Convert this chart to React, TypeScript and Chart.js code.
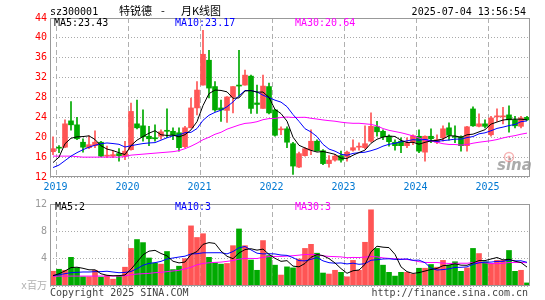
import React, { useEffect, useRef } from 'react';
import { Chart, registerables } from 'chart.js';
Chart.register(...registerables);

const months: string[] = [
  '2018-12',
  '2019-01','2019-02','2019-03','2019-04','2019-05','2019-06','2019-07','2019-08','2019-09','2019-10','2019-11','2019-12',
  '2020-01','2020-02','2020-03','2020-04','2020-05','2020-06','2020-07','2020-08','2020-09','2020-10','2020-11','2020-12',
  '2021-01','2021-02','2021-03','2021-04','2021-05','2021-06','2021-07','2021-08','2021-09','2021-10','2021-11','2021-12',
  '2022-01','2022-02','2022-03','2022-04','2022-05','2022-06','2022-07','2022-08','2022-09','2022-10','2022-11','2022-12',
  '2023-01','2023-02','2023-03','2023-04','2023-05','2023-06','2023-07','2023-08','2023-09','2023-10','2023-11','2023-12',
  '2024-01','2024-02','2024-03','2024-04','2024-05','2024-06','2024-07','2024-08','2024-09','2024-10','2024-11','2024-12',
  '2025-01','2025-02','2025-03','2025-04','2025-05','2025-06','2025-07',
];

const openP: number[] = [
  17.1,
  17.9, 18.0, 23.3, 22.5, 19.0, 17.9, 18.3, 19.0, 16.2, 16.2, 16.7, 16.2,
  17.5, 22.7, 22.3, 20.2, 19.9, 20.2, 21.3, 21.2, 20.9, 18.1, 21.9, 25.9,
  30.5, 35.5, 30.2, 25.9, 25.4, 28.1, 30.4, 30.5, 32.3, 26.9, 25.8, 30.2,
  25.5, 21.5, 21.7, 18.7, 14.0, 16.3, 17.4, 19.2, 17.3, 14.7, 15.4, 16.3,
  16.1, 17.4, 18.0, 17.9, 19.2, 22.1, 21.2, 20.2, 19.0, 19.2, 18.3, 19.0,
  20.2, 17.0, 20.2, 19.0, 19.9, 21.9, 20.1, 20.1, 18.3, 25.7, 22.2, 22.7,
  20.5, 24.1, 24.1, 24.5, 23.5, 22.2, 24.0,
];
const highP: number[] = [
  20.1,
  18.3, 23.5, 27.2, 24.0, 19.7, 20.3, 21.3, 19.2, 18.2, 17.2, 17.7, 19.2,
  26.9, 27.5, 25.5, 22.2, 22.5, 21.5, 25.7, 21.9, 21.9, 22.2, 27.9, 31.2,
  41.5, 37.5, 31.2, 27.5, 28.2, 30.2, 37.5, 33.5, 32.5, 30.5, 32.5, 30.9,
  25.6, 22.1, 22.1, 19.0, 17.0, 17.9, 21.5, 19.5, 17.5, 16.3, 16.5, 17.2,
  17.2, 19.5, 18.9, 22.3, 24.9, 23.2, 21.5, 20.5, 19.5, 19.9, 19.9, 20.5,
  21.5, 20.3, 21.7, 20.5, 22.3, 22.9, 22.3, 20.3, 22.2, 26.1, 24.7, 23.5,
  24.2, 25.7, 26.0, 26.3, 24.2, 24.2, 24.2,
];
const lowP: number[] = [
  16.5,
  16.9, 17.9, 21.4, 19.5, 17.0, 17.7, 17.9, 16.1, 15.9, 15.9, 15.2, 15.5,
  17.4, 21.7, 19.2, 18.3, 19.2, 19.6, 19.9, 19.5, 17.2, 17.9, 21.9, 24.5,
  30.5, 27.9, 25.2, 23.2, 23.0, 24.9, 28.2, 30.5, 24.8, 24.8, 25.8, 24.7,
  20.2, 20.5, 17.9, 12.5, 13.9, 16.2, 16.5, 17.2, 14.5, 14.0, 15.2, 15.0,
  15.2, 17.2, 17.4, 17.7, 19.0, 20.2, 19.5, 18.2, 17.4, 16.9, 17.9, 18.5,
  16.9, 15.2, 18.9, 18.7, 19.2, 19.4, 18.9, 17.2, 17.2, 22.2, 22.1, 21.9,
  20.2, 23.2, 22.7, 21.0, 21.9, 21.9, 23.4,
];
const closeP: number[] = [
  17.7,
  17.8, 22.7, 22.5, 19.7, 18.0, 18.5, 19.0, 16.2, 16.4, 16.5, 16.3, 17.2,
  25.2, 21.9, 20.1, 19.7, 19.7, 21.1, 21.2, 20.5, 17.9, 21.9, 25.9, 29.5,
  36.7, 29.9, 25.5, 25.5, 28.1, 30.2, 30.3, 32.5, 25.8, 26.6, 30.3, 24.9,
  20.4, 21.6, 19.0, 14.2, 16.7, 17.7, 19.2, 17.3, 14.7, 15.4, 16.2, 15.4,
  17.0, 17.9, 18.1, 18.7, 22.2, 21.1, 20.1, 19.1, 18.3, 18.3, 18.9, 20.3,
  17.2, 20.2, 19.7, 19.5, 21.7, 20.4, 20.0, 18.3, 22.1, 22.3, 22.7, 22.2,
  23.9, 24.2, 24.3, 23.5, 22.3, 23.9, 23.5,
];
// volume, millions
const volume: number[] = [
  2.16,
  2.45, 2.3, 4.2, 2.65, 1.35, 1.35, 2.3, 1.3, 1.55, 1.0, 1.45, 2.75,
  5.5, 6.8, 6.35, 4.1, 3.35, 3.2, 5.05, 2.4, 2.9, 4.0, 8.8, 7.1,
  7.65, 4.2, 3.4, 3.2, 3.3, 5.9, 8.35, 5.9, 3.8, 2.3, 6.65, 4.45,
  3.05, 1.6, 2.8, 2.65, 3.95, 5.5, 6.1, 4.8, 1.9, 1.75, 2.3, 2.0,
  1.35, 3.75, 2.3, 6.4, 11.15, 5.5, 3.05, 2.0, 1.45, 2.0, 2.0, 1.75,
  2.6, 2.6, 3.15, 2.75, 3.75, 3.05, 3.55, 2.15, 2.65, 5.5, 4.75, 3.55,
  3.3, 3.75, 3.75, 5.2, 2.15, 2.3, 0.45,
];

// moving-average values before enough history is visible
const leadMA5: number[] = [14.9, 16.0, 18.7, 19.8];
const leadMA10: number[] = [13.9, 14.4, 15.3, 16.2, 16.9, 17.5, 18.0, 18.4, 18.7];
const leadMA30: number[] = [
  16.2, 16.2, 16.2, 16.2, 16.1, 16.0, 16.0, 16.0, 16.0, 16.0, 16.0, 16.0, 16.1, 16.4,
  16.5, 16.6, 16.7, 16.8, 16.9, 17.0, 17.1, 17.3, 17.7, 18.2, 18.8, 19.5, 20.0, 20.6, 21.0,
];
const leadVMA5: number[] = [1.5, 1.8, 2.2, 2.7];
const leadVMA10: number[] = [1.55, 1.65, 1.8, 1.95, 2.0, 2.05, 2.05, 2.1, 2.1];
const leadVMA30: number[] = [
  1.4, 1.45, 1.45, 1.45, 1.45, 1.45, 1.45, 1.45, 1.45, 1.45, 1.45, 1.45, 1.5, 1.65,
  1.75, 1.8, 1.85, 1.95, 2.0, 2.1, 2.2, 2.3, 2.5, 2.75, 3.1, 3.3, 3.4, 3.45, 3.5,
];

const priceLegend: string[] = ['MA5:23.43', 'MA10:23.17', 'MA30:20.64'];
const volLegend: string[] = ['MA5:2', 'MA10:3', 'MA30:3'];
const yPriceTicks = { min: 12, max: 44, step: 4 };
const yVolTicks = { min: 0, max: 12, step: 4 };

const RED = '#ff5555';
const GREEN = '#00aa00';
const MA_COLORS = ['#000000', '#0000ff', '#ff00ff'];
const MONO = "'DejaVu Sans Mono', 'Liberation Mono', monospace";
const CJK = "'Noto Sans CJK SC', sans-serif";

function movingAvg(src: number[], n: number, lead: number[]): number[] {
  return src.map((_, i) => {
    if (i < n - 1) return lead[i];
    let s = 0;
    for (let k = i - n + 1; k <= i; k++) s += src[k];
    return s / n;
  });
}

const isJan = (i: number) => !!months[i] && months[i].endsWith('-01');

function frame(chart: any) {
  const { ctx, chartArea: a } = chart;
  ctx.save();
  ctx.strokeStyle = '#999999';
  ctx.lineWidth = 1;
  ctx.setLineDash([]);
  ctx.strokeRect(Math.round(a.left) + 0.5, Math.round(a.top) + 0.5, Math.round(a.right - a.left) - 1, Math.round(a.bottom - a.top) - 1);
  ctx.restore();
}

export default function App() {
  const mainRef = useRef<HTMLCanvasElement>(null);
  const volRef = useRef<HTMLCanvasElement>(null);

  useEffect(() => {
    const colors = months.map((_, i) => (closeP[i] >= openP[i] ? RED : GREEN));
    const bodies = months.map((_, i) => [openP[i], closeP[i]]);
    const wicks = months.map((_, i) => [lowP[i], highP[i]]);
    const ma5 = movingAvg(closeP, 5, leadMA5);
    const ma10 = movingAvg(closeP, 10, leadMA10);
    const ma30 = movingAvg(closeP, 30, leadMA30);
    const vma5 = movingAvg(volume, 5, leadVMA5);
    const vma10 = movingAvg(volume, 10, leadVMA10);
    const vma30 = movingAvg(volume, 30, leadVMA30);

    const line = (data: number[], color: string) => ({
      type: 'line' as const,
      data,
      borderColor: color,
      borderWidth: 1,
      pointRadius: 0,
      fill: false,
      tension: 0,
      order: 0,
    });

    const xGrid = {
      offset: true,
      drawTicks: false,
      lineWidth: 1,
      color: (c: any) => (isJan(c.index) ? '#b0b0b0' : 'rgba(0,0,0,0)'),
    };

    const mainPlugin = {
      id: 'mainDeco',
      beforeDatasetsDraw(chart: any) {
        const { ctx } = chart;
        ctx.save();
        ctx.fillStyle = 'rgba(150,150,150,0.8)';
        ctx.font = "italic bold 15px 'DejaVu Sans', sans-serif";
        ctx.textBaseline = 'alphabetic';
        ctx.fillText('sina', 497, 170);
        ctx.strokeStyle = 'rgba(240,120,120,0.55)';
        ctx.lineWidth = 1.5;
        ctx.beginPath();
        ctx.arc(509, 157, 4.5, 0, Math.PI * 2);
        ctx.stroke();
        ctx.fillStyle = 'rgba(240,120,120,0.55)';
        ctx.beginPath();
        ctx.arc(509, 157, 1.6, 0, Math.PI * 2);
        ctx.fill();
        ctx.restore();
      },
      afterDraw(chart: any) {
        frame(chart);
        const { ctx } = chart;
        ctx.save();
        ctx.textBaseline = 'alphabetic';
        ctx.fillStyle = '#000';
        ctx.font = `10px ${MONO}`;
        ctx.textAlign = 'left';
        ctx.fillText('sz300001', 50, 15);
        ctx.textAlign = 'right';
        ctx.fillText('2025-07-04 13:56:54', 526, 15);
        ctx.textAlign = 'left';
        ctx.font = `11px ${CJK}`;
        ctx.fillText('特锐德', 119, 14.5);
        ctx.fillText('-', 161, 14.5);
        ctx.fillText('月K线图', 181, 14.5);
        ctx.font = `10px ${MONO}`;
        const xs = [54, 175, 295];
        priceLegend.forEach((t, i) => {
          ctx.fillStyle = MA_COLORS[i];
          ctx.fillText(t, xs[i], 26);
        });
        ctx.restore();
      },
    };

    const volPlugin = {
      id: 'volDeco',
      afterDraw(chart: any) {
        frame(chart);
        const { ctx } = chart;
        ctx.save();
        ctx.textBaseline = 'alphabetic';
        ctx.font = `10px ${MONO}`;
        ctx.textAlign = 'left';
        const xs = [55, 175, 295];
        volLegend.forEach((t, i) => {
          ctx.fillStyle = MA_COLORS[i];
          ctx.fillText(t, xs[i], 15);
        });
        ctx.fillStyle = '#444';
        ctx.fillText('Copyright 2025 SINA.COM', 50, 101);
        ctx.textAlign = 'right';
        ctx.fillText('http://finance.sina.com.cn', 528, 101);
        ctx.restore();
      },
    };

    const main = new Chart(mainRef.current!, {
      type: 'bar',
      data: {
        labels: months,
        datasets: [
          line(ma5, MA_COLORS[0]),
          line(ma10, MA_COLORS[1]),
          line(ma30, MA_COLORS[2]),
          {
            type: 'bar',
            data: bodies as any,
            backgroundColor: colors,
            barThickness: 5,
            grouped: false,
            minBarLength: 1,
            order: 1,
          },
          {
            type: 'bar',
            data: wicks as any,
            backgroundColor: colors,
            barThickness: 1,
            grouped: false,
            order: 2,
          },
        ] as any,
      },
      options: {
        animation: false,
        responsive: false,
        events: [],
        layout: { padding: { top: 18, right: 15, left: 0, bottom: 0 } },
        plugins: { legend: { display: false }, tooltip: { enabled: false } },
        scales: {
          x: {
            type: 'category',
            offset: true,
            grid: xGrid as any,
            border: { display: false, dash: [5, 3] },
            ticks: {
              autoSkip: false,
              maxRotation: 0,
              minRotation: 0,
              padding: 4,
              labelOffset: -3.5,
              color: '#0078d2',
              font: { family: MONO, size: 10 },
              callback: (_v: any, i: number) => (isJan(i) ? months[i].slice(0, 4) : ''),
            },
            afterFit: (s: any) => { s.height = 18; },
          },
          y: {
            type: 'linear',
            min: yPriceTicks.min,
            max: yPriceTicks.max,
            grid: { color: '#aaaaaa', drawTicks: false, lineWidth: 1 },
            border: { display: false, dash: [1, 2] },
            ticks: {
              stepSize: yPriceTicks.step,
              padding: 3,
              color: '#ff0000',
              font: { family: MONO, size: 10 },
            },
            afterFit: (s: any) => { s.width = 50; },
          },
        },
      },
      plugins: [mainPlugin],
    });

    const vol = new Chart(volRef.current!, {
      type: 'bar',
      data: {
        labels: months,
        datasets: [
          line(vma5, MA_COLORS[0]),
          line(vma10, MA_COLORS[1]),
          line(vma30, MA_COLORS[2]),
          {
            type: 'bar',
            data: volume,
            backgroundColor: colors,
            barThickness: 5,
            grouped: false,
            order: 1,
          },
        ] as any,
      },
      options: {
        animation: false,
        responsive: false,
        events: [],
        layout: { padding: { top: 7, right: 15, left: 0, bottom: 14 } },
        plugins: { legend: { display: false }, tooltip: { enabled: false } },
        scales: {
          x: {
            type: 'category',
            offset: true,
            grid: xGrid as any,
            border: { display: false, dash: [5, 3] },
            ticks: { display: false },
            afterFit: (s: any) => { s.height = 0; },
          },
          y: {
            type: 'linear',
            min: yVolTicks.min,
            max: yVolTicks.max,
            grid: { color: '#aaaaaa', drawTicks: false, lineWidth: 1 },
            border: { display: false, dash: [1, 2] },
            ticks: {
              stepSize: yVolTicks.step,
              padding: 3,
              color: (c: any) => (c.tick && c.tick.value === 0 ? '#b0b0b0' : '#999999'),
              font: { family: `${MONO}, ${CJK}`, size: 10 },
              callback: (v: any) => (Number(v) === 0 ? 'x百万' : String(v)),
            },
            afterFit: (s: any) => { s.width = 50; },
          },
        },
      },
      plugins: [volPlugin],
    });

    return () => {
      main.destroy();
      vol.destroy();
    };
  }, []);

  return (
    <div style={{ position: 'fixed', left: 0, top: 0, width: 545, height: 300, background: '#fff', overflow: 'hidden' }}>
      <canvas ref={mainRef} width={545} height={195} style={{ position: 'absolute', left: 0, top: 0, width: 545, height: 195 }} />
      <canvas ref={volRef} width={545} height={105} style={{ position: 'absolute', left: 0, top: 195, width: 545, height: 105 }} />
    </div>
  );
}
